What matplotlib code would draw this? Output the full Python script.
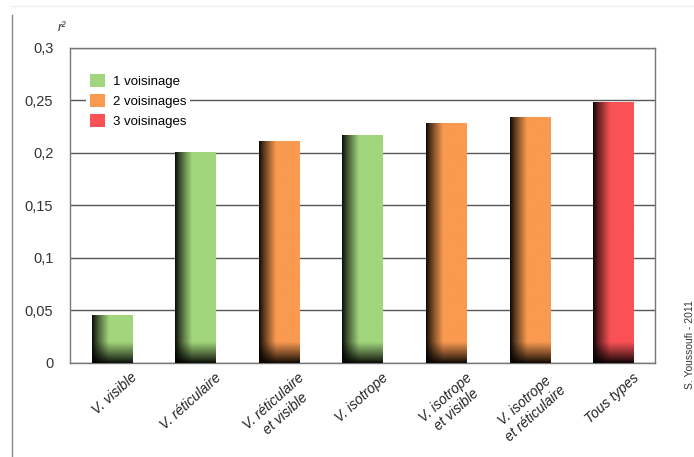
import numpy as np
import matplotlib
matplotlib.use("Agg")
import matplotlib.pyplot as plt
import matplotlib.transforms as mtransforms
from matplotlib.patches import Patch
from matplotlib.lines import Line2D
from matplotlib.colors import to_rgb

plt.rcParams["font.family"] = ["Liberation Sans", "DejaVu Sans"]

# data
categories = ["V. visible", "V. réticulaire", "V. réticulaire\net visible", "V. isotrope",
              "V. isotrope\net visible", "V. isotrope\net réticulaire", "Tous types"]
r2_values = [0.046, 0.201, 0.211, 0.217, 0.229, 0.234, 0.249]
groups = [1, 1, 2, 1, 2, 2, 3]
group_labels = ["1 voisinage", "2 voisinages", "3 voisinages"]
group_colors = {1: "#a2d67c", 2: "#f99a50", 3: "#fa5156"}
yticks = [0, 0.05, 0.1, 0.15, 0.2, 0.25, 0.3]
ytick_labels = ["0", "0,05", "0,1", "0,15", "0,2", "0,25", "0,3"]

fig = plt.figure(figsize=(6.94, 4.57), dpi=100)
ax = fig.add_axes([0.1009, 0.2057, 0.8429, 0.6893])

x = np.arange(len(categories))
colors = [group_colors[g] for g in groups]
bars = ax.bar(x, r2_values, width=0.48, color=colors, zorder=2, linewidth=0)

# shading : dark on the left edge and at the bottom of each bar
nx, ny = 120, 400
for b, c in zip(bars, colors):
    x0, w, h = b.get_x(), b.get_width(), b.get_height()
    t = np.linspace(0, 1, nx)
    fx = 0.04 + 0.96 * np.clip(t / 0.42, 0, 1) ** 0.85
    yy = np.linspace(h, 0, ny)
    fy = 0.06 + 0.94 * np.clip(yy / 0.02, 0, 1) ** 0.9
    light = np.outer(fy, fx)
    img = np.ones((ny, nx, 4))
    img[..., :3] = np.array(to_rgb(c)) * light[..., None]
    im = ax.imshow(img, extent=[x0, x0 + w, 0, h], aspect="auto", zorder=3,
                   interpolation="bilinear")
    im.set_clip_path(b)

ax.set_xlim(-0.5, len(categories) - 0.5)
ax.set_ylim(0, 0.3)
ax.set_yticks(yticks)
ax.set_yticklabels(ytick_labels, fontsize=10.5, color="#333333")
ax.set_xticks(x)
ax.tick_params(axis="y", length=0, pad=12)
ax.tick_params(axis="x", length=0, pad=4)
ax.set_xticklabels(categories, rotation=42, ha="right", va="top", rotation_mode="anchor",
                   fontsize=10, style="italic", color="#222222", multialignment="center")
offset = mtransforms.ScaledTranslation(19 / 100, -2 / 100, fig.dpi_scale_trans)
for lbl in ax.get_xticklabels():
    lbl.set_transform(lbl.get_transform() + offset)
ax.yaxis.grid(True, color="#555555", linewidth=1)
ax.set_axisbelow(True)
for s in ax.spines.values():
    s.set_color("#777777")
    s.set_linewidth(1)

ax.text(-0.014, 1.063, "r²", transform=ax.transAxes, style="italic", fontsize=9,
        ha="center", va="center", color="#333333")

handles = [Patch(facecolor=group_colors[g], edgecolor="none") for g in (1, 2, 3)]
leg = ax.legend(handles, group_labels, loc="upper left", bbox_to_anchor=(0.027, 0.93),
                fontsize=9.5, frameon=True, fancybox=False, handlelength=1.15,
                handleheight=1.15, handletextpad=0.6, labelspacing=0.45, borderpad=0.3,
                borderaxespad=0)
leg.get_frame().set_facecolor("white")
leg.get_frame().set_edgecolor("none")
leg.get_frame().set_alpha(1)
leg.set_zorder(5)

fig.text(690 / 694, (457 - 389) / 457, "S. Youssoufi - 2011", rotation=90,
         ha="center", va="bottom", fontsize=7.5, color="#333333")

# page frame lines
fig.add_artist(Line2D([12 / 694, 12 / 694], [0, 1 - 15 / 457], transform=fig.transFigure,
                      color="#888888", linewidth=1))
fig.add_artist(Line2D([12 / 694, 1], [1 - 6 / 457, 1 - 6 / 457], transform=fig.transFigure,
                      color="#eeeeee", linewidth=1))

fig.savefig("out.png", dpi=100, facecolor="white")
